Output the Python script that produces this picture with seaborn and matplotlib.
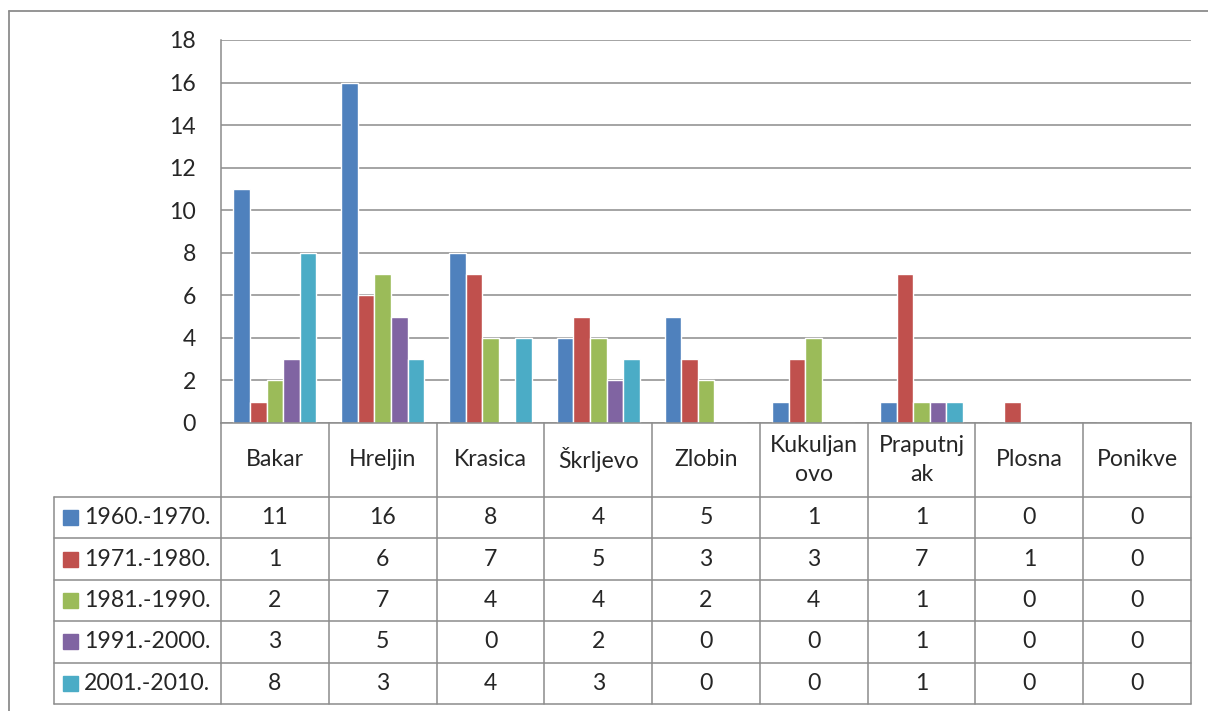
import pandas as pd
import matplotlib
matplotlib.use("Agg")
import matplotlib.pyplot as plt
import matplotlib.transforms as mtransforms
from matplotlib.lines import Line2D
from matplotlib.patches import Rectangle
import seaborn as sns

# --- podaci ---
mjesta = ['Bakar', 'Hreljin', 'Krasica', 'Škrljevo', 'Zlobin',
          'Kukuljanovo', 'Praputnjak', 'Plosna', 'Ponikve']
zaglavlja = ['Bakar', 'Hreljin', 'Krasica', 'Škrljevo', 'Zlobin',
             'Kukuljan\novo', 'Praputnj\nak', 'Plosna', 'Ponikve']
razdoblja = ['1960.-1970.', '1971.-1980.', '1981.-1990.', '1991.-2000.', '2001.-2010.']

r1960 = [11, 16, 8, 4, 5, 1, 1, 0, 0]
r1971 = [1, 6, 7, 5, 3, 3, 7, 1, 0]
r1981 = [2, 7, 4, 4, 2, 4, 1, 0, 0]
r1991 = [3, 5, 0, 2, 0, 0, 1, 0, 0]
r2001 = [8, 3, 4, 3, 0, 0, 1, 0, 0]
serije = [r1960, r1971, r1981, r1991, r2001]

boje = ['#4F81BD', '#C0504D', '#9BBB59', '#8064A2', '#4BACC6']
y_ticks = [0, 2, 4, 6, 8, 10, 12, 14, 16, 18]

df = pd.DataFrame({
    'mjesto': [m for s in serije for m in mjesta],
    'broj': [v for s in serije for v in s],
    'razdoblje': [r for r, s in zip(razdoblja, serije) for _ in s],
})

# --- stil ---
sns.set_style('white')
plt.rcParams['font.family'] = ['Lato', 'DejaVu Sans']
SIVA = '#8C8C8C'
FS = 16.6

W, H = 1208, 711
fig = plt.figure(figsize=(W / 100, H / 100), dpi=100)

def fx(px):
    return px / W

def fy(py):
    return 1 - py / H

ax = fig.add_axes([fx(221), fy(423), fx(1191) - fx(221), fy(40) - fy(423)])
sns.barplot(data=df, x='mjesto', y='broj', hue='razdoblje', order=mjesta,
            hue_order=razdoblja, palette=boje, saturation=1, width=0.77,
            legend=False, ax=ax)

ax.set_xlim(-0.5, len(mjesta) - 0.5)
ax.set_ylim(0, 18)
ax.set_yticks(y_ticks)
ax.set_xticks([])
ax.set_xlabel('')
ax.set_ylabel('')
ax.tick_params(axis='y', length=0, pad=18, labelsize=FS)
ax.yaxis.grid(True, color=SIVA, linewidth=1.1)
ax.set_axisbelow(True)
for side in ['top', 'right']:
    ax.spines[side].set_visible(False)
for side in ['left', 'bottom']:
    ax.spines[side].set_color(SIVA)
    ax.spines[side].set_linewidth(1.1)

# --- tablica s podacima ---
tr = mtransforms.blended_transform_factory(ax.transData, fig.transFigure)
redovi = [497, 538.3, 580, 621, 662.5, 703.5]
n = len(mjesta)

# horizontalne linije
for py in redovi:
    fig.add_artist(Line2D([fx(54), fx(1191)], [fy(py), fy(py)], color=SIVA, lw=1.1))
fig.add_artist(Line2D([fx(54), fx(54)], [fy(497), fy(703.5)], color=SIVA, lw=1.1))
for i in range(n + 1):
    fig.add_artist(Line2D([i - 0.5, i - 0.5], [fy(423), fy(703.5)], color=SIVA,
                          lw=1.1, transform=tr))

# zaglavlje
for i, z in enumerate(zaglavlja):
    fig.text(i, fy(460), z, transform=tr, ha='center', va='center',
             fontsize=FS, linespacing=1.42)

# vrijednosti i legenda
for j, (r, s) in enumerate(zip(razdoblja, serije)):
    yc = (redovi[j] + redovi[j + 1]) / 2
    fig.add_artist(Rectangle((fx(63), fy(yc + 7.5)), fx(15), 15 / H,
                             color=boje[j], transform=fig.transFigure))
    fig.text(fx(84), fy(yc), r, ha='left', va='center', fontsize=FS)
    for i, v in enumerate(s):
        fig.text(i, fy(yc), str(v), transform=tr, ha='center', va='center',
                 fontsize=FS)

# okvir grafikona
fig.add_artist(Line2D([fx(8.5), fx(1208)], [fy(10.5), fy(10.5)], color=SIVA, lw=1.3))
fig.add_artist(Line2D([fx(8.5), fx(8.5)], [fy(10.5), fy(711)], color=SIVA, lw=1.3))

fig.savefig('out.png', dpi=100)
